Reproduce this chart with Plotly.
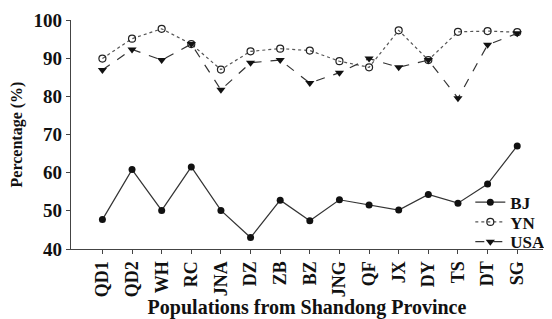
import plotly.graph_objects as go

populations = ["QD1", "QD2", "WH", "RC", "JNA", "DZ", "ZB", "BZ", "JNG", "QF", "JX", "DY", "TS", "DT", "SG"]
bj = [47.7, 60.8, 50.1, 61.5, 50.1, 43.0, 52.8, 47.4, 52.9, 51.5, 50.2, 54.3, 52.0, 57.0, 67.0]
yn = [89.9, 95.1, 97.7, 93.7, 87.0, 91.8, 92.5, 92.0, 89.2, 87.6, 97.3, 89.5, 96.9, 97.1, 96.8]
usa = [86.9, 92.3, 89.5, 93.7, 81.7, 88.8, 89.5, 83.5, 86.2, 89.9, 87.6, 89.5, 79.5, 93.5, 96.5]
y_ticks = [40, 50, 60, 70, 80, 90, 100]

FONT = "Liberation Serif"
BOLD = dict(family=FONT, color="#111111", weight="bold")

fig = go.Figure()
fig.add_trace(go.Scatter(x=populations, y=bj, name="BJ", mode="lines+markers", legend="legend",
                         line=dict(color="#333333", width=1.2, dash="solid"),
                         marker=dict(symbol="circle", size=7, color="#111111")))
fig.add_trace(go.Scatter(x=populations, y=yn, name="YN", mode="lines+markers", legend="legend2",
                         line=dict(color="#555555", width=1.2, dash="dot"),
                         marker=dict(symbol="circle-open", size=7, color="#222222", line=dict(width=1.2))))
fig.add_trace(go.Scatter(x=populations, y=usa, name="USA", mode="lines+markers", legend="legend3",
                         line=dict(color="#333333", width=1.2, dash="dash"),
                         marker=dict(symbol="triangle-down", size=8, color="#111111")))

leg_common = dict(xanchor="left", x=0.846, yanchor="middle",
                  font=dict(size=17, **BOLD), bgcolor="rgba(0,0,0,0)",
                  itemwidth=30, borderwidth=0)

fig.update_layout(
    width=544, height=311,
    margin=dict(l=63, r=2, t=9, b=70),
    paper_bgcolor="white", plot_bgcolor="white",
    font=dict(family=FONT, color="#111111"),
    showlegend=True,
    legend=dict(y=0.2026, **leg_common),
    legend2=dict(y=0.1164, **leg_common),
    legend3=dict(y=0.0302, **leg_common),
    xaxis=dict(type="category", range=[-1.06, 14.87],
               showline=True, linecolor="#444444", linewidth=1.3,
               ticks="outside", ticklen=4, tickcolor="#444444",
               tickangle=-90, showgrid=False, zeroline=False,
               tickfont=dict(size=18, **BOLD),
               title=dict(text="Populations from Shandong Province", standoff=2,
                          font=dict(size=20, **BOLD))),
    yaxis=dict(range=[40, 100], tickvals=y_ticks,
               showline=True, linecolor="#444444", linewidth=1.3,
               ticks="outside", ticklen=4, tickcolor="#444444",
               ticklabeloverflow="allow",
               showgrid=False, zeroline=False,
               tickfont=dict(size=19, **BOLD),
               title=dict(text="Percentage (%)", standoff=10,
                          font=dict(size=16, **BOLD))),
)

fig.write_html("out.html")
